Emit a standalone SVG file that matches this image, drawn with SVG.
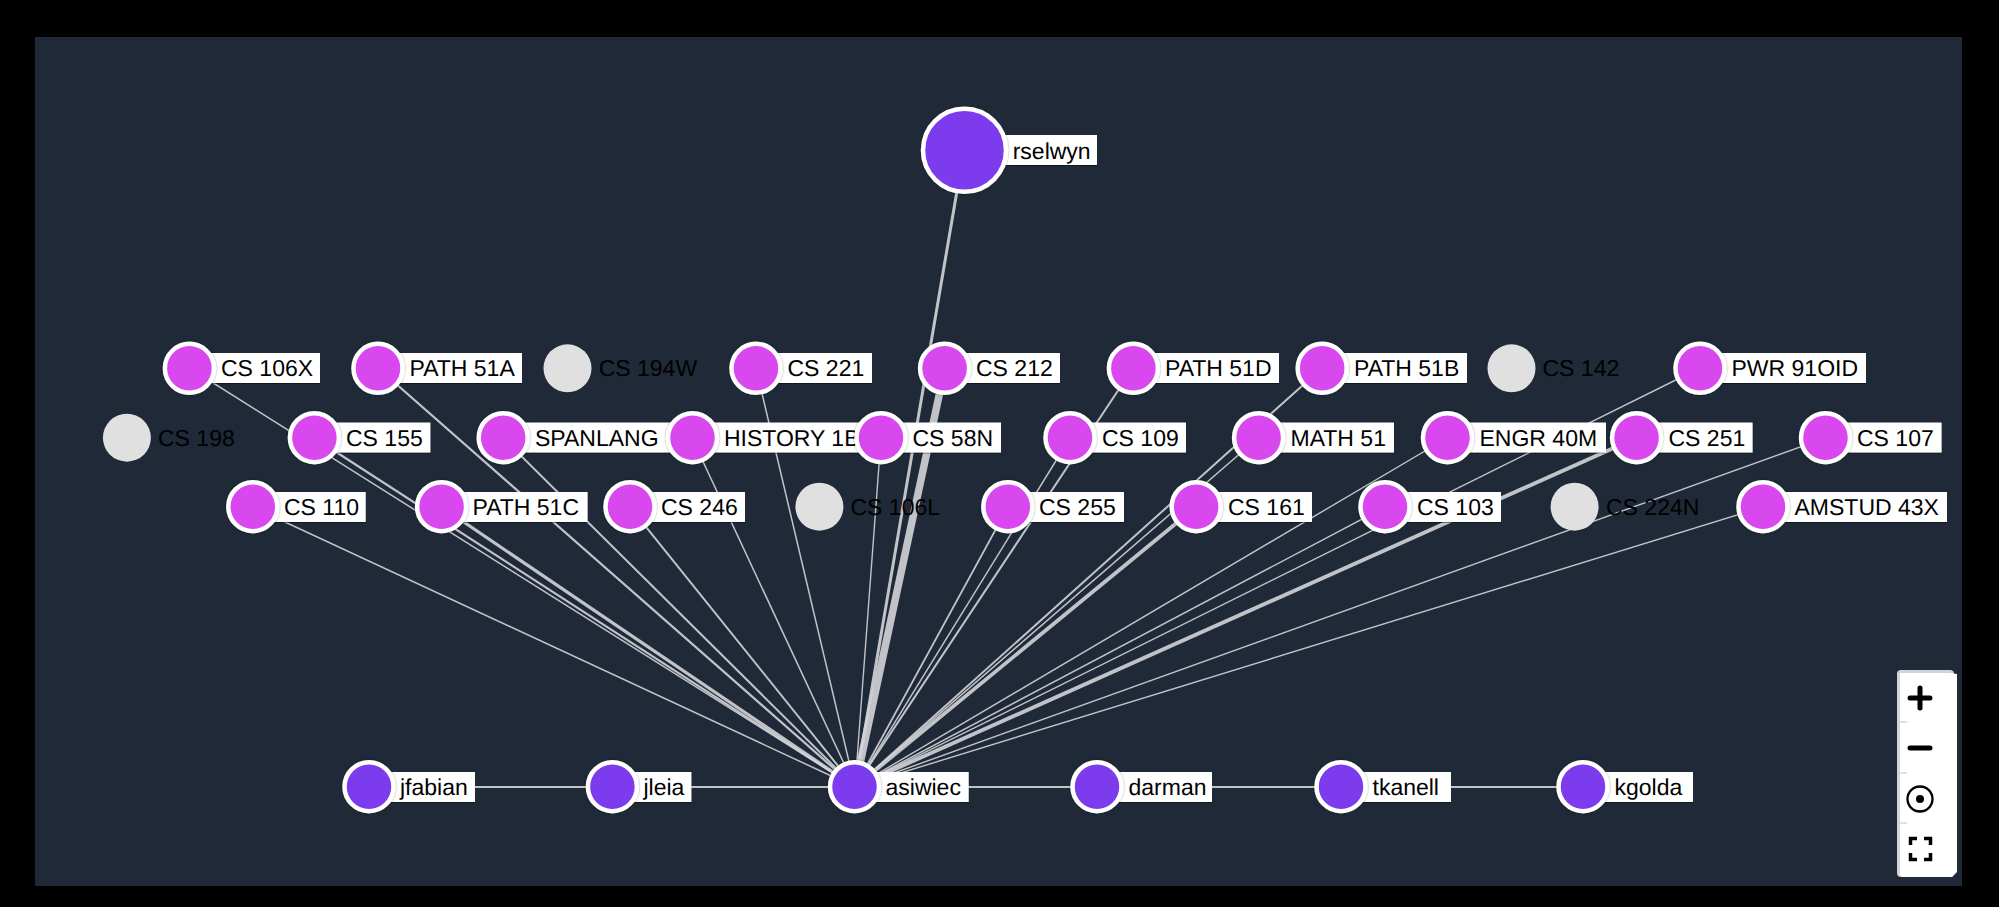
<svg xmlns="http://www.w3.org/2000/svg" width="1999" height="907" viewBox="0 0 1999 907">
<style>
text{font-family:"Liberation Sans",Arial,sans-serif;font-size:23px;fill:#000;text-rendering:geometricPrecision}
.e{stroke:#d4d4d8;fill:none;stroke-opacity:.9}
.l{fill:#fff;filter:url(#s)}
.n{stroke:#fff;stroke-width:4.5;filter:url(#h)}
.p{fill:#d946ef}.v{fill:#7c3aed}.g{fill:#e0e0e0}
.i{stroke:#000;fill:none}
</style>
<defs>
<filter id="s" x="-5%" y="-10%" width="110%" height="125%"><feDropShadow dx="0" dy="1" stdDeviation=".7" flood-color="#000" flood-opacity=".45"/></filter>
<filter id="h" x="-10%" y="-10%" width="120%" height="120%"><feDropShadow dx="0" dy="0" stdDeviation="1" flood-color="#000" flood-opacity=".4"/></filter>
</defs>
<rect width="1999" height="907" fill="#000"/>
<rect x="35" y="37" width="1927" height="849" fill="#1f2937"/>
<g id="connectors">
<path class="e" stroke-width="3" d="M964 150L855 787"/>
<path class="e" stroke-width="1.5" d="M189.4 368L855 787"/>
<path class="e" stroke-width="2.2" d="M378 368L855 787"/>
<path class="e" stroke-width="2.2" d="M314.4 438L855 787"/>
<path class="e" stroke-width="2" d="M503 438L855 787"/>
<path class="e" stroke-width="1.5" d="M692 438L855 787"/>
<path class="e" stroke-width="1.5" d="M252.8 507L855 787"/>
<path class="e" stroke-width="3.2" d="M441.6 507L855 787"/>
<path class="e" stroke-width="2" d="M630 507L855 787"/>
<path class="e" stroke-width="1.5" d="M756 368L855 787"/>
<path class="e" stroke-width="7.5" d="M945 368L855 787"/>
<path class="e" stroke-width="1.4" d="M881 438L855 787"/>
<path class="e" stroke-width="2" d="M1133 368L855 787"/>
<path class="e" stroke-width="1.5" d="M1070 438L855 787"/>
<path class="e" stroke-width="1.8" d="M1008 507L855 787"/>
<path class="e" stroke-width="2" d="M1322 368L855 787"/>
<path class="e" stroke-width="1.5" d="M1258 438L855 787"/>
<path class="e" stroke-width="3.8" d="M1196 507L855 787"/>
<path class="e" stroke-width="1.4" d="M1447 438L855 787"/>
<path class="e" stroke-width="1.4" d="M1700 368L855 787"/>
<path class="e" stroke-width="1.5" d="M1385 507L855 787"/>
<path class="e" stroke-width="3.8" d="M1636 438L855 787"/>
<path class="e" stroke-width="1.4" d="M1825 438L855 787"/>
<path class="e" stroke-width="1.4" d="M1763 507L855 787"/>
<path class="e" stroke-width="2.2" d="M369 787H1584"/>
</g>
<g id="n-cs106x"><rect class="l" x="189" y="353" width="131" height="30"/><circle class="n p" cx="189.4" cy="368.3" r="24.5"/><text x="221" y="376">CS 106X</text></g>
<g id="n-path51a"><rect class="l" x="378" y="353" width="144" height="30"/><circle class="n p" cx="378" cy="368.3" r="24.5"/><text x="409.5" y="376">PATH 51A</text></g>
<g id="n-cs194w"><circle class="g" cx="567.5" cy="368.3" r="24"/><text x="598.7" y="376">CS 194W</text></g>
<g id="n-cs221"><rect class="l" x="756" y="353" width="116" height="30"/><circle class="n p" cx="756" cy="368.3" r="24.5"/><text x="787.5" y="376">CS 221</text></g>
<g id="n-cs212"><rect class="l" x="945" y="353" width="115" height="30"/><circle class="n p" cx="944.6" cy="368.3" r="24.5"/><text x="976" y="376">CS 212</text></g>
<g id="n-path51d"><rect class="l" x="1133" y="353" width="146" height="30"/><circle class="n p" cx="1133.4" cy="368.3" r="24.5"/><text x="1165" y="376">PATH 51D</text></g>
<g id="n-path51b"><rect class="l" x="1322" y="353" width="145" height="30"/><circle class="n p" cx="1322.2" cy="368.3" r="24.5"/><text x="1354" y="376">PATH 51B</text></g>
<g id="n-cs142"><circle class="g" cx="1511.5" cy="368.3" r="24"/><text x="1542.5" y="376">CS 142</text></g>
<g id="n-pwr91oid"><rect class="l" x="1700" y="353" width="166" height="30"/><circle class="n p" cx="1700" cy="368.3" r="24.5"/><text x="1731.5" y="376">PWR 91OID</text></g>
<g id="n-cs198"><circle class="g" cx="126.9" cy="437.7" r="24"/><text x="158" y="445.5">CS 198</text></g>
<g id="n-cs155"><rect class="l" x="314" y="422.5" width="116.4" height="30"/><circle class="n p" cx="314.4" cy="437.7" r="24.5"/><text x="346" y="445.5">CS 155</text></g>
<g id="n-spanlang"><rect class="l" x="503" y="422.5" width="190" height="30"/><circle class="n p" cx="503.2" cy="437.7" r="24.5"/><text x="535" y="445.5">SPANLANG</text></g>
<g id="n-history1b"><rect class="l" x="692" y="422.5" width="190" height="30"/><circle class="n p" cx="692.5" cy="437.7" r="24.5"/><text x="724" y="445.5">HISTORY 1B</text></g>
<g id="n-cs58n"><rect class="l" x="881" y="422.5" width="120" height="30"/><circle class="n p" cx="881" cy="437.7" r="24.5"/><text x="912.5" y="445.5">CS 58N</text></g>
<g id="n-cs109"><rect class="l" x="1070" y="422.5" width="116" height="30"/><circle class="n p" cx="1070" cy="437.7" r="24.5"/><text x="1102" y="445.5">CS 109</text></g>
<g id="n-math51"><rect class="l" x="1258" y="422.5" width="136" height="30"/><circle class="n p" cx="1258.6" cy="437.7" r="24.5"/><text x="1290.5" y="445.5">MATH 51</text></g>
<g id="n-engr40m"><rect class="l" x="1447" y="422.5" width="159" height="30"/><circle class="n p" cx="1447.5" cy="437.7" r="24.5"/><text x="1479.5" y="445.5">ENGR 40M</text></g>
<g id="n-cs251"><rect class="l" x="1636" y="422.5" width="116.6" height="30"/><circle class="n p" cx="1636.6" cy="437.7" r="24.5"/><text x="1668.5" y="445.5">CS 251</text></g>
<g id="n-cs107"><rect class="l" x="1825" y="422.5" width="116.6" height="30"/><circle class="n p" cx="1825.5" cy="437.7" r="24.5"/><text x="1857" y="445.5">CS 107</text></g>
<g id="n-cs110"><rect class="l" x="253" y="492" width="112.7" height="30"/><circle class="n p" cx="252.8" cy="506.7" r="24.5"/><text x="284" y="515">CS 110</text></g>
<g id="n-path51c"><rect class="l" x="441.6" y="492" width="146" height="30"/><circle class="n p" cx="441.6" cy="506.7" r="24.5"/><text x="472.5" y="515">PATH 51C</text></g>
<g id="n-cs246"><rect class="l" x="630" y="492" width="115" height="30"/><circle class="n p" cx="630" cy="506.7" r="24.5"/><text x="661" y="515">CS 246</text></g>
<g id="n-cs106l"><circle class="g" cx="819.4" cy="506.7" r="24"/><text x="850.5" y="515">CS 106L</text></g>
<g id="n-cs255"><rect class="l" x="1008" y="492" width="116" height="30"/><circle class="n p" cx="1007.8" cy="506.7" r="24.5"/><text x="1039" y="515">CS 255</text></g>
<g id="n-cs161"><rect class="l" x="1196" y="492" width="116" height="30"/><circle class="n p" cx="1196.2" cy="506.7" r="24.5"/><text x="1228" y="515">CS 161</text></g>
<g id="n-cs103"><rect class="l" x="1385" y="492" width="116" height="30"/><circle class="n p" cx="1385" cy="506.7" r="24.5"/><text x="1417" y="515">CS 103</text></g>
<g id="n-cs224n"><circle class="g" cx="1574.6" cy="506.7" r="24"/><text x="1606" y="515">CS 224N</text></g>
<g id="n-amstud43x"><rect class="l" x="1763" y="492" width="184" height="30"/><circle class="n p" cx="1763" cy="506.7" r="24.5"/><text x="1794.5" y="515">AMSTUD 43X</text></g>
<g id="n-jfabian"><rect class="l" x="369" y="772" width="106" height="30"/><circle class="n v" cx="369" cy="786.7" r="24.5"/><text x="400" y="795">jfabian</text></g>
<g id="n-jleia"><rect class="l" x="612" y="772" width="79.4" height="30"/><circle class="n v" cx="612.4" cy="786.7" r="24.5"/><text x="643.5" y="795">jleia</text></g>
<g id="n-asiwiec"><rect class="l" x="855" y="772" width="113.7" height="30"/><circle class="n v" cx="854.5" cy="786.7" r="24.5"/><text x="885.5" y="795">asiwiec</text></g>
<g id="n-darman"><rect class="l" x="1097" y="772" width="115" height="30"/><circle class="n v" cx="1097" cy="786.7" r="24.5"/><text x="1128.5" y="795">darman</text></g>
<g id="n-tkanell"><rect class="l" x="1341" y="772" width="110" height="30"/><circle class="n v" cx="1341" cy="786.7" r="24.5"/><text x="1372.5" y="795">tkanell</text></g>
<g id="n-kgolda"><rect class="l" x="1583" y="772" width="110" height="30"/><circle class="n v" cx="1583" cy="786.7" r="24.5"/><text x="1614.5" y="795">kgolda</text></g>
<g id="n-rselwyn"><rect class="l" x="964" y="135" width="133" height="30"/><circle class="n v" cx="964.5" cy="150.3" r="41.5"/><text x="1012.7" y="158.5">rselwyn</text></g>
<g id="controls">
<rect x="1897" y="670" width="57" height="207" rx="4" fill="#d1d5db"/>
<path d="M1900 673H1950L1957 674V872L1952 877H1902L1900 875Z" fill="#fff"/>
<path d="M1900 722H1907M1900 773H1907M1900 823H1907" stroke="#d1d5db" stroke-width="1.5"/>
<path class="i" stroke-width="5" stroke-linecap="round" d="M1910 698H1930M1920 688V708M1910 748H1930"/>
<circle class="i" stroke-width="2.3" cx="1920" cy="799" r="12.5"/>
<circle cx="1920" cy="799" r="4"/>
<path class="i" stroke-width="3.5" d="M1910.5 845V838.500H1917M1924 838.500H1930.500V845M1910.5 853V859.500H1917M1924 859.500H1930.500V853"/>
</g>
</svg>
